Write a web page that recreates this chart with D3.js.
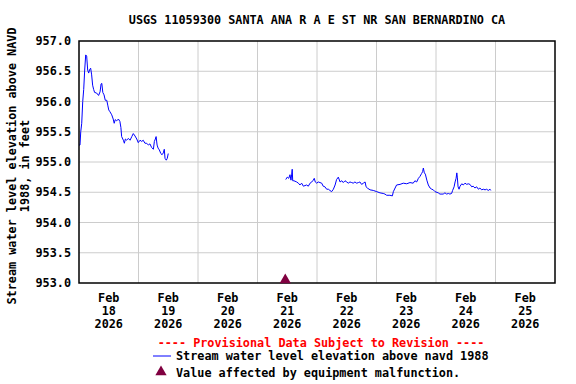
<!DOCTYPE html>
<html>
<head>
<meta charset="utf-8">
<script src="https://cdn.jsdelivr.net/npm/d3@7"></script>
<style>
  body { margin: 0; background: #fff; }
  text { font-family: "DejaVu Sans Mono", monospace; font-weight: bold; font-size: 11.8px; fill: #000; }
</style>
</head>
<body>
<script>
// hours since Feb 18 2026 00:00 and elevation (ft)
var seg1Hours = [0, 0.4, 0.7, 1.1, 1.5, 1.9, 2.3, 2.7, 3.1, 3.5, 3.9, 4.3, 4.7, 5.1, 5.5, 5.9, 6.3, 7.1, 7.9, 8.5,
  8.9, 9.2, 9.6, 10.1, 10.6, 11.2, 11.6, 12.0, 12.5, 13.2, 13.8, 14.2, 14.6, 15.2, 15.9, 16.5, 16.9, 17.2, 17.9, 18.3,
  18.7, 19.2, 19.9, 20.6, 21.3, 21.9, 22.6, 23.3, 23.9, 24.6, 25.3, 25.9, 26.6, 27.3, 28.0, 28.6, 29.3, 30.0, 30.4,
  30.8, 31.1, 31.5, 31.9, 32.4, 33.0, 33.5, 34.0, 34.4, 34.7, 35.2, 35.6, 36.0];
var seg1Values = [955.28, 955.28, 955.50, 955.64, 956.00, 956.20, 956.52, 956.77, 956.75, 956.52, 956.47, 956.53, 956.55,
  956.44, 956.27, 956.20, 956.15, 956.14, 956.10, 956.16, 956.29, 956.30, 956.15, 956.11, 956.02, 956.02, 955.94, 955.86,
  955.83, 955.78, 955.71, 955.64, 955.70, 955.68, 955.71, 955.67, 955.57, 955.42, 955.36, 955.31, 955.38, 955.36, 955.39,
  955.36, 955.42, 955.47, 955.43, 955.38, 955.32, 955.36, 955.34, 955.36, 955.31, 955.31, 955.28, 955.30, 955.24, 955.21,
  955.34, 955.38, 955.42, 955.28, 955.23, 955.20, 955.14, 955.12, 955.15, 955.21, 955.06, 955.03, 955.06, 955.14];

var seg2Hours = [83.4, 84.0, 84.6, 85.1, 85.5, 85.8, 86.0, 86.2, 86.7, 87.8, 88.5, 89.1, 89.8, 90.5, 91.8, 92.5, 93.2,
  93.9, 94.5, 94.9, 95.3, 95.9, 96.5, 97.2, 97.9, 98.5, 99.2, 99.9, 100.6, 101.2, 101.9, 102.6, 103.3, 103.9, 104.6,
  105.3, 106.0, 106.6, 107.3, 108.0, 108.6, 109.3, 110.0, 110.6, 111.3, 112.0, 112.7, 113.3, 114.0, 114.7, 115.4, 115.8,
  116.3, 117.4, 118.7, 120.1, 121.4, 122.7, 123.4, 124.1, 125.4, 126.4, 126.8, 127.5, 128.1, 129.5, 130.8, 132.2, 133.5,
  134.8, 135.5, 136.2, 136.9, 137.5, 138.2, 138.6, 138.9, 139.3, 139.7, 140.3, 140.9, 141.6, 142.3, 142.9, 143.6, 144.9,
  145.6, 146.9, 147.6, 148.3, 149.0, 149.6, 150.3, 150.7, 151.3, 151.7, 152.1, 152.4, 152.6, 152.9, 153.3, 153.7, 154.4,
  155.0, 155.7, 156.4, 157.0, 157.7, 158.4, 159.0, 159.7, 160.4, 161.1, 161.7, 162.4, 163.1, 163.8, 164.4, 165.1, 165.8, 166.1];
var seg2Values = [954.71, 954.75, 954.73, 954.79, 954.70, 954.80, 954.88, 954.69, 954.69, 954.67, 954.65, 954.62, 954.65,
  954.60, 954.62, 954.60, 954.65, 954.67, 954.70, 954.73, 954.67, 954.65, 954.67, 954.66, 954.65, 954.60, 954.59, 954.55,
  954.55, 954.53, 954.51, 954.55, 954.62, 954.71, 954.75, 954.67, 954.69, 954.66, 954.69, 954.67, 954.65, 954.67, 954.66,
  954.65, 954.67, 954.65, 954.66, 954.67, 954.63, 954.65, 954.67, 954.59, 954.57, 954.54, 954.53, 954.51, 954.49, 954.48,
  954.47, 954.45, 954.45, 954.44, 954.51, 954.57, 954.62, 954.63, 954.65, 954.64, 954.66, 954.65, 954.69, 954.67, 954.73,
  954.76, 954.81, 954.84, 954.90, 954.82, 954.80, 954.70, 954.62, 954.57, 954.55, 954.54, 954.51, 954.49, 954.47, 954.47,
  954.49, 954.47, 954.48, 954.47, 954.48, 954.53, 954.59, 954.67, 954.73, 954.82, 954.75, 954.59, 954.55, 954.60, 954.64,
  954.62, 954.65, 954.63, 954.64, 954.63, 954.59, 954.60, 954.57, 954.59, 954.55, 954.57, 954.54, 954.55, 954.54, 954.55,
  954.53, 954.55, 954.53];

// equipment malfunction marker
var flagHours = [83.2];
var flagValues = [953.0];

var yTicks = [953.0, 953.5, 954.0, 954.5, 955.0, 955.5, 956.0, 956.5, 957.0];
var dayLabels = ["18", "19", "20", "21", "22", "23", "24", "25"];

var t0 = Date.UTC(2026, 1, 18);
function toDate(h) { return new Date(t0 + h * 3600000); }

var svg = d3.select("body").append("svg")
  .attr("width", 576)
  .attr("height", 384);

var plotLeft = 79, plotRight = 555, plotTop = 41, plotBottom = 283;

var x = d3.scaleUtc()
  .domain([toDate(0), toDate(192)])
  .range([plotLeft, plotRight]);
var y = d3.scaleLinear()
  .domain([953, 957])
  .range([plotBottom, plotTop]);

// grid
var days = d3.utcDay.range(toDate(24), toDate(192));
svg.selectAll(".vgrid").data(days).enter().append("line")
  .attr("x1", function(d) { return x(d); })
  .attr("x2", function(d) { return x(d); })
  .attr("y1", plotTop).attr("y2", plotBottom)
  .style("stroke", "#cccccc");
svg.selectAll(".hgrid").data(yTicks.slice(1, -1)).enter().append("line")
  .attr("x1", plotLeft).attr("x2", plotRight)
  .attr("y1", function(d) { return y(d); })
  .attr("y2", function(d) { return y(d); })
  .style("stroke", "#cccccc");

// data lines
var line = d3.line()
  .x(function(d) { return x(toDate(d[0])); })
  .y(function(d) { return y(d[1]); });
[[seg1Hours, seg1Values], [seg2Hours, seg2Values]].forEach(function(s) {
  svg.append("path")
    .datum(d3.zip(s[0], s[1]))
    .attr("d", line)
    .style("fill", "none")
    .style("stroke", "#0000ff")
    .style("stroke-width", 1);
});

// frame
svg.append("rect")
  .attr("x", plotLeft).attr("y", plotTop)
  .attr("width", plotRight - plotLeft).attr("height", plotBottom - plotTop)
  .style("fill", "none")
  .style("stroke", "#000")
  .style("stroke-width", 1.5);

var tri = d3.symbol().type(d3.symbolTriangle).size(55);
svg.selectAll(".flag").data(d3.zip(flagHours, flagValues)).enter().append("path")
  .attr("d", tri)
  .attr("transform", function(d) { return "translate(" + x(toDate(d[0])) + "," + (y(d[1]) - 3) + ")"; })
  .style("fill", "#800040");

// y tick labels
svg.selectAll(".ylab").data(yTicks).enter().append("text")
  .attr("x", 71)
  .attr("y", function(d) { return y(d) + 4; })
  .attr("text-anchor", "end")
  .text(function(d) { return d.toFixed(1); });

// x tick labels at noon
svg.selectAll(".xlab").data(dayLabels).enter().append("text")
  .attr("text-anchor", "middle")
  .attr("transform", function(d, i) { return "translate(" + x(toDate(i * 24 + 12)) + ",302)"; })
  .each(function(d) {
    var t = d3.select(this);
    t.append("tspan").attr("x", 0).attr("dy", 0).text("Feb");
    t.append("tspan").attr("x", 0).attr("dy", 13).text(d);
    t.append("tspan").attr("x", 0).attr("dy", 13).text("2026");
  });

// title
svg.append("text")
  .attr("x", 317).attr("y", 24)
  .attr("text-anchor", "middle")
  .text("USGS 11059300 SANTA ANA R A E ST NR SAN BERNARDINO CA");

// y axis title
var yt = svg.append("text")
  .attr("text-anchor", "middle")
  .attr("transform", "translate(16,166) rotate(-90)");
yt.append("tspan").attr("x", 0).attr("dy", 0).text("Stream water level elevation above NAVD");
yt.append("tspan").attr("x", 0).attr("dy", 13).text("1988, in feet");

// legend
svg.append("text")
  .attr("x", 321).attr("y", 347)
  .attr("text-anchor", "middle")
  .style("fill", "#ff0000")
  .text("---- Provisional Data Subject to Revision ----");
svg.append("line")
  .attr("x1", 153).attr("x2", 171).attr("y1", 356).attr("y2", 356)
  .style("stroke", "#0000ff");
svg.append("text")
  .attr("x", 176).attr("y", 360)
  .text("Stream water level elevation above navd 1988");
svg.append("path")
  .attr("d", tri)
  .attr("transform", "translate(161,372)")
  .style("fill", "#800040");
svg.append("text")
  .attr("x", 176).attr("y", 377)
  .text("Value affected by equipment malfunction.");
</script>
</body>
</html>
